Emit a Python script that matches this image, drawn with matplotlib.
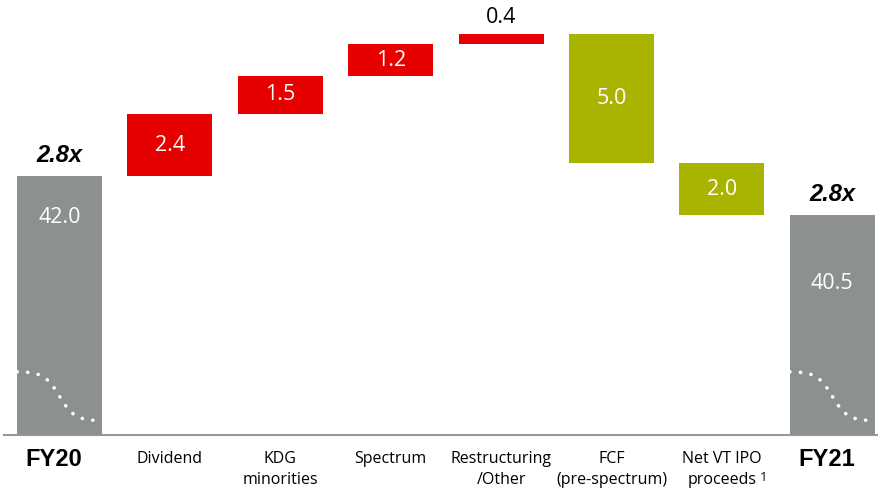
import numpy as np
import matplotlib.pyplot as plt

# net debt bridge FY20 -> FY21 (EUR bn)
categories = ["FY20", "Dividend", "KDG\nminorities", "Spectrum", "Restructuring\n/Other",
              "FCF\n(pre-spectrum)", "Net VT IPO\nproceeds", "FY21"]
footnotes = {6: "1"}
start_total = 42.0
increases = [2.4, 1.5, 1.2, 0.4]
decreases = [5.0, 2.0]
end_total = 40.5
leverage = ["2.8x", "2.8x"]

GREY = "#8c9091"
RED = "#e60000"
GREEN = "#a8b400"

# build the floating segments
bottoms, heights, colors = [], [], []
level = start_total
for v in increases:
    bottoms.append(level)
    heights.append(v)
    colors.append(RED)
    level += v
for v in decreases:
    level -= v
    bottoms.append(level)
    heights.append(v)
    colors.append(GREEN)

y0 = 32.0  # axis is broken, bars start here
fig = plt.figure(figsize=(8.79, 4.9), dpi=100)
ax = fig.add_axes([0, 55 / 490, 1, 435 / 490])
ax.set_xlim(-0.539, 7.423)
ax.set_ylim(y0, 48.82)
ax.axis("off")

w = 0.77
x = np.arange(len(categories))

# totals
for xi, val in [(x[0], start_total), (x[-1], end_total)]:
    ax.bar(xi, val - y0, bottom=y0, width=w, color=GREY, zorder=2)

ax.bar(x[1:-1], heights, bottom=bottoms, width=w, color=colors, zorder=2)

vfont = dict(family="Open Sans", fontsize=15.5)

# value labels
ax.text(x[0], start_total - 1.6, f"{start_total:.1f}", ha="center", va="center", color="white", **vfont)
ax.text(x[-1], end_total - 2.65, f"{end_total:.1f}", ha="center", va="center", color="white", **vfont)
for xi, b, h in zip(x[1:-1], bottoms, heights):
    if h < 0.8:
        ax.text(xi, b + h + 0.22, f"{h:.1f}", ha="center", va="bottom", color="black", **vfont)
    else:
        ax.text(xi, b + h / 2, f"{h:.1f}", ha="center", va="center", color="white", **vfont)

# leverage labels above the totals
for xi, val, lab in [(x[0], start_total, leverage[0]), (x[-1], end_total, leverage[1])]:
    ax.text(xi, val + 0.8, lab, ha="center", va="center", fontsize=17,
            fontweight="bold", fontstyle="italic", family="Liberation Sans")

# axis-break squiggle on the total bars
t = np.linspace(-1, 1, 60)
yy = 33.5 - 0.95 * np.tanh(2.8 * t)
for xi in (x[0], x[-1]):
    ax.plot(xi + t * w / 2, yy, color="white", lw=2.6,
            linestyle=(0, (0.05, 2.9)), dash_capstyle="round", zorder=3)

# baseline
ax.plot([-0.5, 7.423], [y0, y0], color="#999999", lw=1.5, clip_on=False, zorder=1)

# category labels
for i, (xi, lab) in enumerate(zip(x, categories)):
    if lab.startswith("FY"):
        ax.text(xi - 0.05, y0 - 0.5, lab, ha="center", va="top", fontsize=17,
                fontweight="bold", family="Liberation Sans")
    else:
        ax.text(xi, y0 - 0.62, lab, ha="center", va="top", fontsize=11.5,
                family="Open Sans", linespacing=1.45)
    if i in footnotes:
        ax.text(xi + 0.345, y0 - 1.38, footnotes[i], ha="left", va="top",
                fontsize=9.5, family="Open Sans")

fig.savefig("out.png", dpi=100)
